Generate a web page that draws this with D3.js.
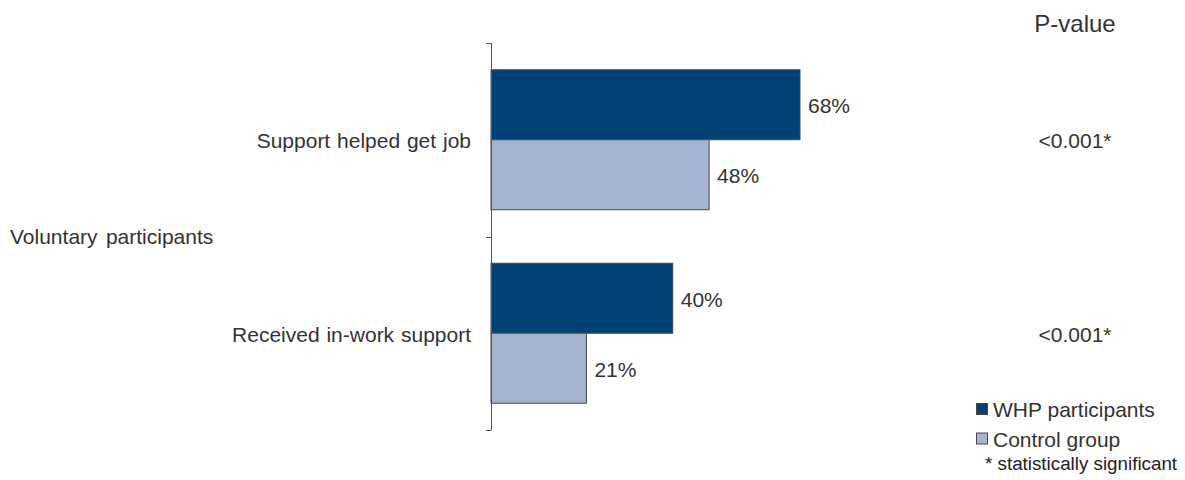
<!DOCTYPE html>
<html>
<head>
<meta charset="utf-8">
<script src="https://cdn.jsdelivr.net/npm/d3@7"></script>
<style>
  body { margin: 0; background: #fff; }
  svg { display: block; font-family: "Liberation Sans", Arial, sans-serif; }
</style>
</head>
<body>
<svg id="chart" width="1185" height="480"></svg>
<script>
// Outcome measures and the percentage reporting each, by group
const categories = ["Support helped get job", "Received in-work support"];
const whpValues = [68, 40];
const controlValues = [48, 21];
const pValues = ["<0.001*", "<0.001*"];
const seriesNames = ["WHP participants", "Control group"];
const groupLabel = "Voluntary participants";

const colors = { whp: "#004276", control: "#a3b3d0" };
const textColor = "#333333";

const svg = d3.select("#chart");

const x = d3.scaleLinear().domain([0, 100]).range([491, 491 + 454.4]);
const y = d3.scaleBand()
  .domain(categories)
  .range([43, 430])
  .paddingInner(0.2765)
  .paddingOuter(0.1383);

const sub = d3.scaleBand()
  .domain(["whp", "control"])
  .range([0, y.bandwidth()]);

const rows = categories.map((c, i) => ({
  cat: c,
  whp: whpValues[i],
  control: controlValues[i],
  p: pValues[i]
}));

// Bars with value labels
const g = svg.append("g");
rows.forEach(r => {
  ["whp", "control"].forEach(k => {
    g.append("rect")
      .attr("x", x(0))
      .attr("y", y(r.cat) + sub(k))
      .attr("width", x(r[k]) - x(0))
      .attr("height", sub.bandwidth())
      .attr("fill", colors[k])
      .attr("stroke", "#4a4a4a")
      .attr("stroke-width", 1);
    g.append("text")
      .attr("x", x(r[k]) + 8)
      .attr("y", y(r.cat) + sub(k) + sub.bandwidth() / 2)
      .attr("dy", "0.4em")
      .attr("font-size", 21)
      .attr("fill", textColor)
      .text(r[k] + "%");
  });
});

// Category axis with ticks between categories
const step = y.step();
const tickYs = [y(categories[0]) - (step - y.bandwidth()) / 2];
categories.forEach(c => tickYs.push(y(c) + y.bandwidth() + (step - y.bandwidth()) / 2));
const axis = svg.append("g").attr("stroke", "#555").attr("stroke-width", 1);
axis.append("line")
  .attr("x1", x(0) + 0.5).attr("x2", x(0) + 0.5)
  .attr("y1", tickYs[0]).attr("y2", tickYs[tickYs.length - 1]);
tickYs.forEach(t => {
  axis.append("line")
    .attr("x1", x(0) - 5).attr("x2", x(0) + 0.5)
    .attr("y1", Math.round(t) + 0.5).attr("y2", Math.round(t) + 0.5);
});

// Category labels
rows.forEach(r => {
  svg.append("text")
    .attr("x", 471)
    .attr("y", y(r.cat) + y.bandwidth() / 2)
    .attr("dy", "0.4em")
    .attr("text-anchor", "end")
    .attr("font-size", 21)
    .attr("word-spacing", 1)
    .attr("fill", textColor)
    .text(r.cat);
});

// Group label
svg.append("text")
  .attr("x", 10)
  .attr("y", (tickYs[0] + tickYs[tickYs.length - 1]) / 2)
  .attr("dy", "0.35em")
  .attr("font-size", 21)
  .attr("word-spacing", 2.5)
  .attr("fill", textColor)
  .text(groupLabel);

// P-value column
svg.append("text")
  .attr("x", 1075).attr("y", 24).attr("dy", "0.35em")
  .attr("text-anchor", "middle")
  .attr("font-size", 24)
  .attr("fill", textColor)
  .text("P-value");
rows.forEach(r => {
  svg.append("text")
    .attr("x", 1075)
    .attr("y", y(r.cat) + y.bandwidth() / 2)
    .attr("dy", "0.4em")
    .attr("text-anchor", "middle")
    .attr("font-size", 21)
    .attr("fill", textColor)
    .text(r.p);
});

// Legend
const legend = svg.append("g");
[["whp", 409], ["control", 438.5]].forEach(([k, ly], i) => {
  legend.append("rect")
    .attr("x", 976.5).attr("y", ly - 5.5)
    .attr("width", 11).attr("height", 11)
    .attr("fill", colors[k])
    .attr("stroke", "#4a4a4a");
  legend.append("text")
    .attr("x", 993).attr("y", ly + 8)
    .attr("font-size", 21)
    .attr("fill", textColor)
    .text(seriesNames[i]);
});
legend.append("text")
  .attr("x", 985).attr("y", 470)
  .attr("font-size", 18.8)
  .attr("fill", "#222")
  .text("* statistically significant");
</script>
</body>
</html>
